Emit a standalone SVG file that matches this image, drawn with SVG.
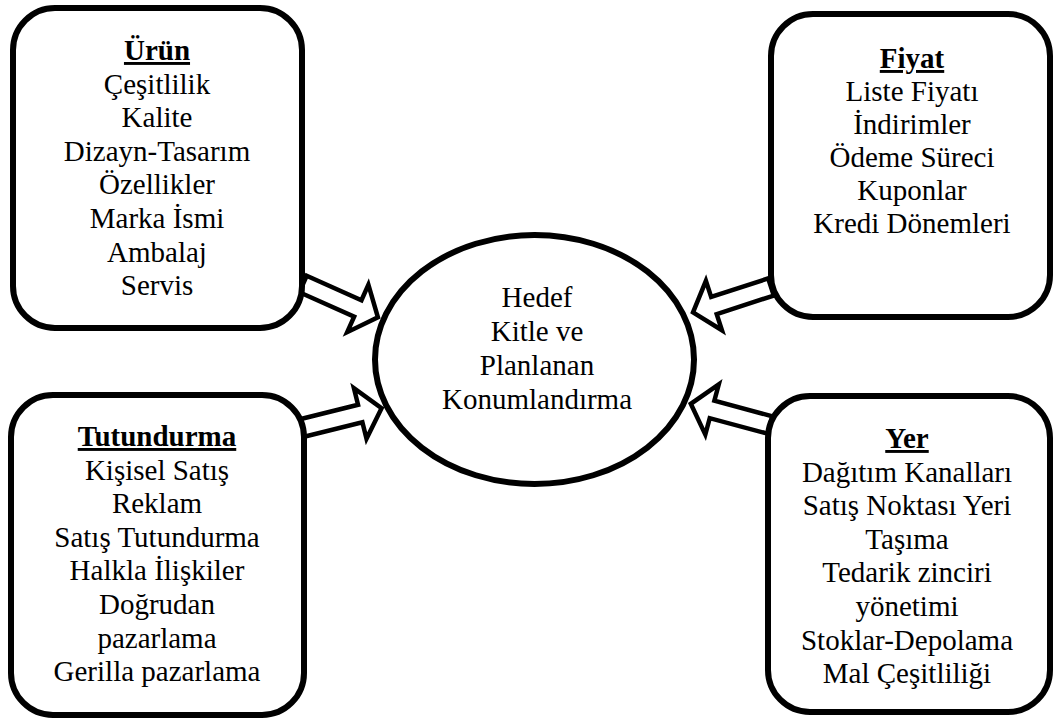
<svg xmlns="http://www.w3.org/2000/svg" width="1055" height="720" viewBox="0 0 1055 720">
  <style>
    .box { fill: #fff; stroke: #000; stroke-width: 6; }
    .ell { fill: #fff; stroke: #000; stroke-width: 6; }
    .arrow { fill: #fff; stroke: #000; stroke-width: 4.5; stroke-linejoin: miter; stroke-miterlimit: 10; }
    .t { font-family: "Times New Roman", "Liberation Serif", "DejaVu Serif", serif; font-size: 29px; fill: #000; text-anchor: middle; }
    .head { font-weight: bold; text-decoration: underline; }
  </style>
  <defs>
    <!-- block arrow pointing along +x, tail at the origin -->
    <polygon id="blockArrow" points="0,-9 60,-9 60,-26 82,0 60,26 60,9 0,9"/>
  </defs>

  <g id="connectors">
    <use href="#blockArrow" class="arrow" transform="translate(303,284) rotate(24)"/>
    <use href="#blockArrow" class="arrow" transform="translate(302,428) rotate(-14)"/>
    <use href="#blockArrow" class="arrow" transform="translate(771,287) rotate(162)"/>
    <use href="#blockArrow" class="arrow" transform="translate(770,425) rotate(195)"/>
  </g>

  <g id="urun" class="t">
    <rect class="box" x="13" y="8" width="289" height="320" rx="42" ry="42"/>
    <text x="157" y="60" class="head">Ürün</text>
    <text x="157" y="93.6">Çeşitlilik</text>
    <text x="157" y="127.2">Kalite</text>
    <text x="157" y="160.8">Dizayn-Tasarım</text>
    <text x="157" y="194.4">Özellikler</text>
    <text x="157" y="228">Marka İsmi</text>
    <text x="157" y="261.6">Ambalaj</text>
    <text x="157" y="295.2">Servis</text>
  </g>

  <g id="fiyat" class="t">
    <rect class="box" x="771" y="14" width="279" height="303" rx="42" ry="42"/>
    <text x="912" y="68" class="head">Fiyat</text>
    <text x="912" y="101">Liste Fiyatı</text>
    <text x="912" y="134">İndirimler</text>
    <text x="912" y="167">Ödeme Süreci</text>
    <text x="912" y="200">Kuponlar</text>
    <text x="912" y="233">Kredi Dönemleri</text>
  </g>

  <g id="tutundurma" class="t">
    <rect class="box" x="11" y="395" width="293" height="320" rx="42" ry="42"/>
    <text x="157" y="446" class="head">Tutundurma</text>
    <text x="157" y="479.6">Kişisel Satış</text>
    <text x="157" y="513.2">Reklam</text>
    <text x="157" y="546.8">Satış Tutundurma</text>
    <text x="157" y="580.4">Halkla İlişkiler</text>
    <text x="157" y="614">Doğrudan</text>
    <text x="157" y="647.6">pazarlama</text>
    <text x="157" y="681.2">Gerilla pazarlama</text>
  </g>

  <g id="yer" class="t">
    <rect class="box" x="768" y="396" width="282" height="316" rx="42" ry="42"/>
    <text x="907" y="448" class="head">Yer</text>
    <text x="907" y="481.6">Dağıtım Kanalları</text>
    <text x="907" y="515.2">Satış Noktası Yeri</text>
    <text x="907" y="548.8">Taşıma</text>
    <text x="907" y="582.4">Tedarik zinciri</text>
    <text x="907" y="616">yönetimi</text>
    <text x="907" y="649.6">Stoklar-Depolama</text>
    <text x="907" y="683.2">Mal Çeşitliliği</text>
  </g>

  <g id="hedef" class="t">
    <ellipse class="ell" cx="534.5" cy="359.5" rx="159.5" ry="124.5"/>
    <text x="537" y="307">Hedef</text>
    <text x="537" y="341">Kitle ve</text>
    <text x="537" y="375">Planlanan</text>
    <text x="537" y="409">Konumlandırma</text>
  </g>
</svg>
